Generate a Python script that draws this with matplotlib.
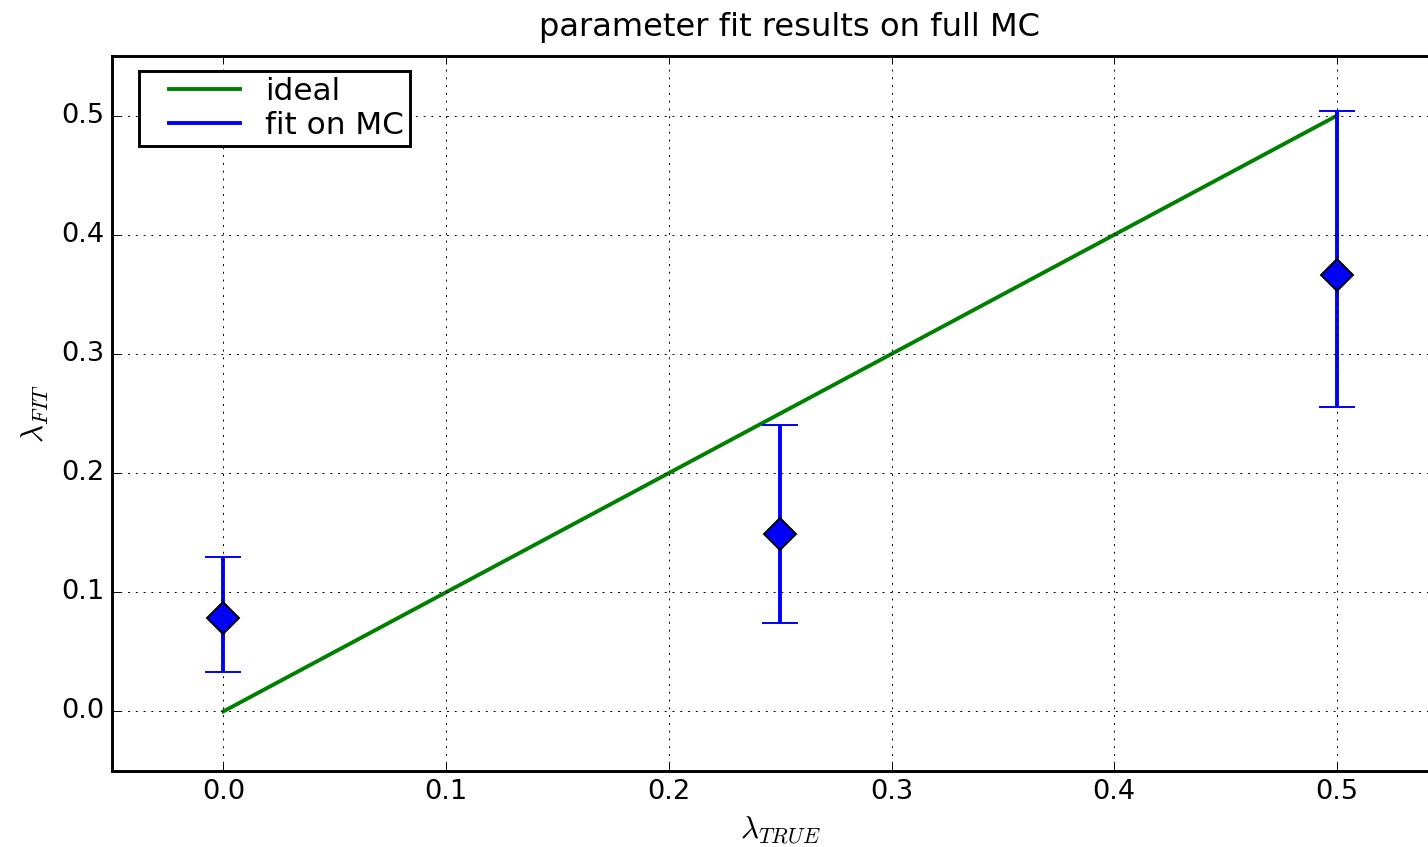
import numpy as np
import matplotlib
matplotlib.use('Agg')
import matplotlib.pyplot as plt
from matplotlib.lines import Line2D
from matplotlib.legend_handler import HandlerLine2D

plt.style.use('classic')

# values
lam_true = [0.0, 0.25, 0.5]
lam_fit = [0.078, 0.149, 0.366]
err_low = [0.045, 0.0745, 0.1105]
err_high = [0.052, 0.091, 0.138]
ideal_x = [0.0, 0.5]
ideal_y = [0.0, 0.5]

fig = plt.figure(figsize=(10.2, 6.05), dpi=140)
ax = fig.add_axes([0.0784, 0.0897, 0.9359, 0.8442])

ax.plot(ideal_x, ideal_y, color='green', lw=2, label='ideal')
ax.errorbar(lam_true, lam_fit, yerr=[err_low, err_high], fmt='D', color='blue',
            mfc='blue', mec='black', mew=1, ms=12, elinewidth=2, capsize=9.5,
            capthick=0.8)

ax.set_xlim(-0.05, 0.55)
ax.set_ylim(-0.05, 0.55)
ax.set_xticks(np.arange(0.0, 0.51, 0.1))
ax.set_yticks(np.arange(0.0, 0.51, 0.1))
ax.tick_params(labelsize=14)
ax.grid(True)
for s in ax.spines.values():
    s.set_linewidth(1.5)

# legend shows plain lines, like the old errorbar legend did
handles = [Line2D([], [], color='green', lw=2),
           Line2D([], [], color='blue', lw=2)]
hmap = {h: HandlerLine2D(marker_pad=0.75) for h in handles}
leg = ax.legend(handles, ['ideal', 'fit on MC'], loc='upper left', fontsize=16,
                bbox_to_anchor=(0.0202, 0.979), borderaxespad=0,
                borderpad=0.2, labelspacing=0.15, handlelength=3.8,
                handletextpad=0.06, handler_map=hmap)
leg.get_frame().set_linewidth(1.5)

ax.set_xlabel(r'$\lambda_{TRUE}$', fontsize=16)
ax.set_ylabel(r'$\lambda_{FIT}$', fontsize=16)
ax.set_title('parameter fit results on full MC', fontsize=16.5, x=0.507, y=1.015)

fig.savefig('out.png', dpi=140)
